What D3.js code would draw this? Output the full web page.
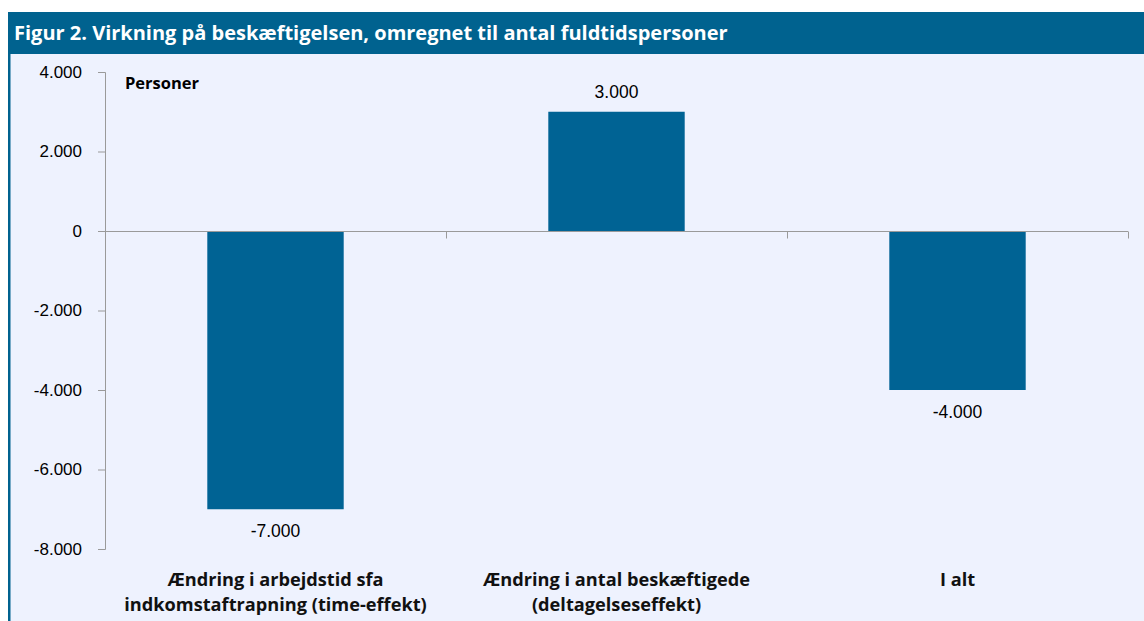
<!DOCTYPE html>
<html>
<head>
<meta charset="utf-8">
<script src="https://cdn.jsdelivr.net/npm/d3@7"></script>
<style>
  body { margin: 0; background: #fff; }
  svg { display: block; font-family: "Open Sans", sans-serif; }
</style>
</head>
<body>
<div id="chart"></div>
<script>
const categories = [
    ["Ændring i arbejdstid sfa", "indkomstaftrapning (time-effekt)"],
    ["Ændring i antal beskæftigede", "(deltagelseseffekt)"],
    ["I alt"]
];
const values = [-7000, 3000, -4000];
const yTicks = [-8000, -6000, -4000, -2000, 0, 2000, 4000];

const W = 1144, H = 621;
const margin = { top: 72, right: 16, bottom: 72, left: 105 };
const width = W - margin.left - margin.right;
const height = H - margin.top - margin.bottom;

const fmt = v => d3.format(",")(v).replace(/,/g, ".").replace("−", "-");

const svg = d3.select("#chart").append("svg")
    .attr("width", W)
    .attr("height", H);

// panel background + title bar
svg.append("rect").attr("x", 8).attr("y", 12).attr("width", W - 8).attr("height", H - 12).attr("fill", "#eef2fe");
svg.append("rect").attr("x", 8).attr("y", 12).attr("width", 2.5).attr("height", H - 12).attr("fill", "#00628f");
svg.append("rect").attr("x", 8).attr("y", 12).attr("width", W - 8).attr("height", 42).attr("fill", "#00628f");
svg.append("text")
    .attr("x", 14).attr("y", 40)
    .attr("fill", "#fff")
    .style("font-size", "20px")
    .style("font-weight", "bold")
    .text("Figur 2. Virkning på beskæftigelsen, omregnet til antal fuldtidspersoner");

const g = svg.append("g").attr("transform", `translate(${margin.left},${margin.top})`);

const x = d3.scaleBand()
    .domain(d3.range(values.length))
    .range([0, width])
    .paddingInner(0.6)
    .paddingOuter(0.3);

const y = d3.scaleLinear()
    .domain([-8000, 4000])
    .range([height, 0]);

// y axis
const yAxis = g.append("g")
    .call(d3.axisLeft(y).tickValues(yTicks).tickFormat(fmt).tickSize(7).tickPadding(16));
yAxis.select(".domain").attr("stroke", "#9a9a9a").attr("d", `M-7,0.5H0.5V${height + 0.5}H-7`);
yAxis.selectAll(".tick line").attr("stroke", "#9a9a9a");
yAxis.selectAll(".tick text").attr("fill", "#000").style("font-size", "17px")
    .style("font-family", "Liberation Sans, Arial, sans-serif");

// bars
g.append("g").selectAll("rect")
    .data(values)
    .join("rect")
    .attr("x", (d, i) => x(i))
    .attr("width", x.bandwidth())
    .attr("y", d => y(Math.max(0, d)))
    .attr("height", d => Math.abs(y(d) - y(0)))
    .attr("fill", "#006394");

// x axis at zero, with category boundary ticks
const zeroY = Math.round(y(0)) + 0.5;
g.append("line")
    .attr("x1", 0).attr("x2", width)
    .attr("y1", zeroY).attr("y2", zeroY)
    .attr("stroke", "#9a9a9a");
g.append("g").selectAll("line")
    .data(d3.range(1, values.length + 1))
    .join("line")
    .attr("x1", i => Math.round(i * width / values.length) + 0.5)
    .attr("x2", i => Math.round(i * width / values.length) + 0.5)
    .attr("y1", zeroY).attr("y2", zeroY + 7)
    .attr("stroke", "#9a9a9a");

// value labels
g.append("g").selectAll("text")
    .data(values)
    .join("text")
    .attr("x", (d, i) => x(i) + x.bandwidth() / 2)
    .attr("y", d => d >= 0 ? y(d) - 14 : y(d) + 28)
    .attr("text-anchor", "middle")
    .style("font-size", "17.5px")
    .style("font-family", "Liberation Sans, Arial, sans-serif")
    .attr("fill", "#000")
    .text(fmt);

// category labels
g.append("g").selectAll("text")
    .data(categories)
    .join("text")
    .attr("x", (d, i) => x(i) + x.bandwidth() / 2)
    .attr("y", height + 37)
    .attr("text-anchor", "middle")
    .style("font-size", "18.2px")
    .style("font-weight", "bold")
    .attr("fill", "#111")
    .selectAll("tspan")
    .data(d => d)
    .join("tspan")
    .attr("x", function () { return this.parentNode.getAttribute("x"); })
    .attr("dy", (d, i) => i === 0 ? 0 : 25)
    .text(d => d);

// unit label
g.append("text")
    .attr("x", 20).attr("y", 17)
    .style("font-size", "16.5px")
    .style("font-weight", "bold")
    .attr("fill", "#000")
    .text("Personer");
</script>
</body>
</html>
